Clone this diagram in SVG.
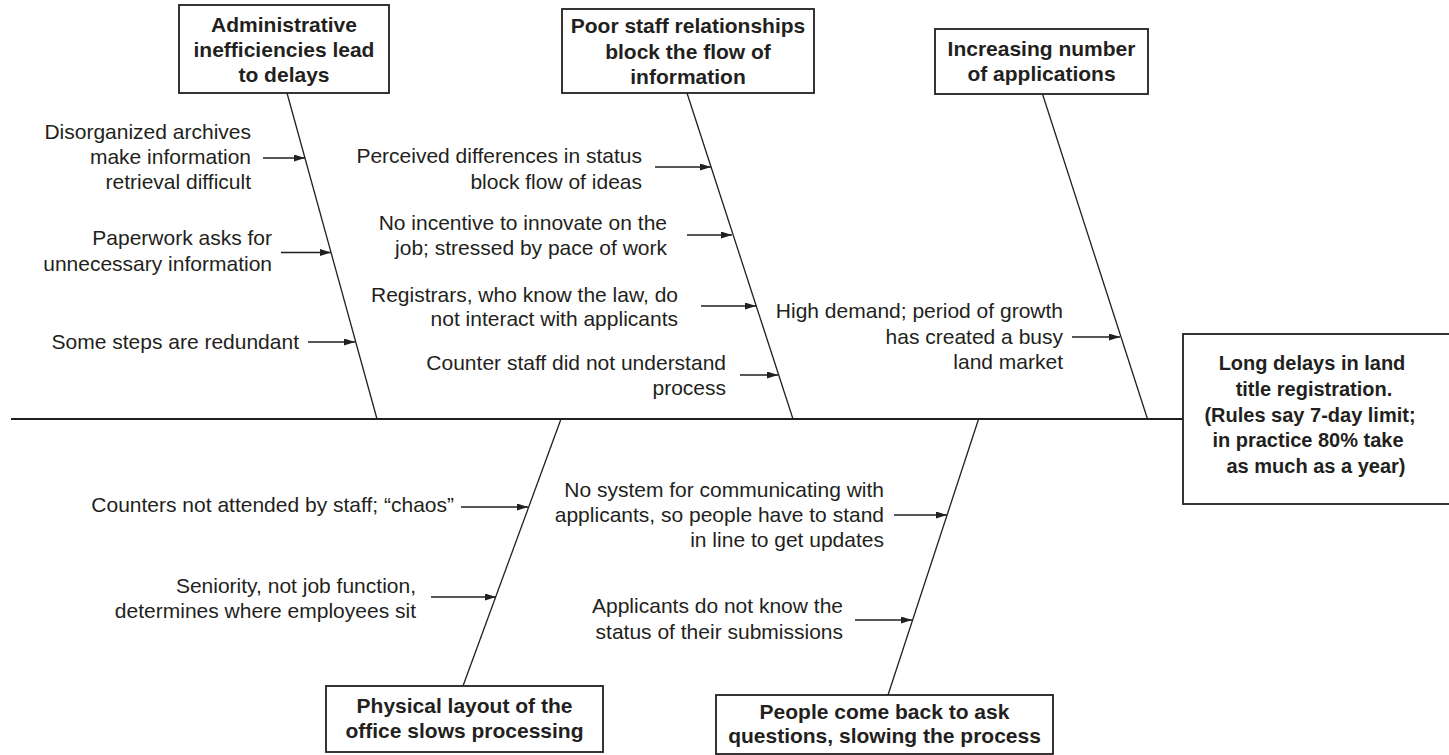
<svg xmlns="http://www.w3.org/2000/svg" width="1449" height="755" viewBox="0 0 1449 755">
<defs>
<marker id="ah" markerUnits="userSpaceOnUse" markerWidth="12" markerHeight="8" refX="11" refY="3.5" orient="auto">
<path d="M0,0 L11,3.5 L0,7 z" fill="#231f20"/>
</marker>
<style>
text{font-family:"Liberation Sans",Arial,Helvetica,sans-serif;fill:#231f20}
.lbl{font-size:21px;text-anchor:end}
.hd{font-size:21px;font-weight:bold;text-anchor:middle}
.mn{font-size:20px;font-weight:bold;text-anchor:middle}
.box{fill:#fff;stroke:#231f20;stroke-width:1.8}
.bone{stroke:#231f20;stroke-width:1.3;fill:none}
.arr{stroke:#231f20;stroke-width:1.3;fill:none;marker-end:url(#ah)}
</style>
</defs>
<rect width="1449" height="755" fill="#fff"/>
<g id="connectors">
<line class="bone" x1="11" y1="419" x2="1183" y2="419" style="stroke-width:1.8"/>
<line class="bone" x1="287" y1="93" x2="377" y2="419"/>
<line class="bone" x1="687" y1="93" x2="793" y2="419"/>
<line class="bone" x1="1042.5" y1="94" x2="1147.5" y2="419"/>
<line class="bone" x1="561" y1="419" x2="463" y2="686"/>
<line class="bone" x1="978.6" y1="419" x2="888" y2="695"/>
<line class="arr" x1="263" y1="158" x2="305" y2="158"/>
<line class="arr" x1="281" y1="252.5" x2="331" y2="252.5"/>
<line class="arr" x1="308" y1="342" x2="355" y2="342"/>
<line class="arr" x1="655" y1="167" x2="711" y2="167"/>
<line class="arr" x1="687" y1="235" x2="732" y2="235"/>
<line class="arr" x1="701" y1="306" x2="756" y2="306"/>
<line class="arr" x1="740" y1="375" x2="778" y2="375"/>
<line class="arr" x1="1072" y1="337" x2="1120" y2="337"/>
<line class="arr" x1="461" y1="507" x2="528" y2="507"/>
<line class="arr" x1="431" y1="597" x2="496" y2="597"/>
<line class="arr" x1="894" y1="515" x2="947" y2="515"/>
<line class="arr" x1="855" y1="620" x2="912" y2="620"/>
</g>
<g id="effect">
<rect class="box" x="1183" y="334" width="275" height="170"/>
<text class="mn" x="1312" y="370">Long delays in land</text>
<text class="mn" x="1314" y="396">title registration.</text>
<text class="mn" x="1310" y="422">(Rules say 7-day limit;</text>
<text class="mn" x="1308" y="447">in practice 80% take</text>
<text class="mn" x="1316" y="473">as much as a year)</text>
</g>
<g id="cat-admin">
<rect class="box" x="179" y="5" width="210" height="88"/>
<text class="hd" x="284" y="32">Administrative</text>
<text class="hd" x="284" y="57">inefficiencies lead</text>
<text class="hd" x="284" y="82">to delays</text>
</g>
<g id="cat-staff">
<rect class="box" x="562" y="9" width="252" height="84"/>
<text class="hd" x="688" y="33">Poor staff relationships</text>
<text class="hd" x="688" y="59">block the flow of</text>
<text class="hd" x="688" y="84">information</text>
</g>
<g id="cat-apps">
<rect class="box" x="935" y="29" width="213" height="65"/>
<text class="hd" x="1041.5" y="56">Increasing number</text>
<text class="hd" x="1041.5" y="81">of applications</text>
</g>
<g id="cat-layout">
<rect class="box" x="326" y="686" width="277" height="66"/>
<text class="hd" x="464.5" y="713">Physical layout of the</text>
<text class="hd" x="464.5" y="738">office slows processing</text>
</g>
<g id="cat-people">
<rect class="box" x="716" y="695" width="337" height="59"/>
<text class="hd" x="884.5" y="719">People come back to ask</text>
<text class="hd" x="884.5" y="743">questions, slowing the process</text>
</g>
<g id="c-archives">
<text class="lbl" x="251" y="139">Disorganized archives</text>
<text class="lbl" x="251" y="164">make information</text>
<text class="lbl" x="251" y="189">retrieval difficult</text>
</g>
<g id="c-paperwork">
<text class="lbl" x="272" y="245">Paperwork asks for</text>
<text class="lbl" x="272" y="270.5">unnecessary information</text>
</g>
<g id="c-steps">
<text class="lbl" x="299" y="349">Some steps are redundant</text>
</g>
<g id="c-status">
<text class="lbl" x="642" y="163">Perceived differences in status</text>
<text class="lbl" x="642" y="189">block flow of ideas</text>
</g>
<g id="c-incentive">
<text class="lbl" x="667" y="230">No incentive to innovate on the</text>
<text class="lbl" x="667" y="255">job; stressed by pace of work</text>
</g>
<g id="c-registrars">
<text class="lbl" x="678" y="302">Registrars, who know the law, do</text>
<text class="lbl" x="678" y="326">not interact with applicants</text>
</g>
<g id="c-counter">
<text class="lbl" x="726" y="370">Counter staff did not understand</text>
<text class="lbl" x="726" y="395">process</text>
</g>
<g id="c-demand">
<text class="lbl" x="1063" y="318">High demand; period of growth</text>
<text class="lbl" x="1063" y="344">has created a busy</text>
<text class="lbl" x="1063" y="369">land market</text>
</g>
<g id="c-counters">
<text class="lbl" x="454" y="512">Counters not attended by staff; “chaos”</text>
</g>
<g id="c-seniority">
<text class="lbl" x="416" y="593">Seniority, not job function,</text>
<text class="lbl" x="416" y="618">determines where employees sit</text>
</g>
<g id="c-nosystem">
<text class="lbl" x="884" y="497">No system for communicating with</text>
<text class="lbl" x="884" y="522">applicants, so people have to stand</text>
<text class="lbl" x="884" y="547">in line to get updates</text>
</g>
<g id="c-applicants">
<text class="lbl" x="843" y="613">Applicants do not know the</text>
<text class="lbl" x="843" y="639">status of their submissions</text>
</g>
</svg>
